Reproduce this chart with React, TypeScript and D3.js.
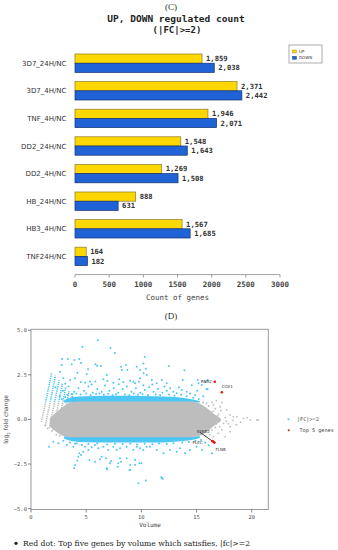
import * as d3 from 'd3';

// ---- (C) bar chart data
const categories = ['3D7_24H/NC', '3D7_4H/NC', 'TNF_4H/NC', 'DD2_24H/NC', 'DD2_4H/NC', 'HB_24H/NC', 'HB3_4H/NC', 'TNF24H/NC'];
const upCounts = [1859, 2371, 1946, 1548, 1269, 888, 1567, 164];
const downCounts = [2038, 2442, 2071, 1643, 1508, 631, 1685, 182];
const countTicks = [0, 500, 1000, 1500, 2000, 2500, 3000];
const seriesNames = ['UP', 'DOWN'];

// ---- (D) MA plot data (volume, log2 fold change)
const volumeTicks = [0, 5, 10, 15, 20];
const foldTicks = [5, 2.5, 0, -2.5, -5];

// dense grey cloud outline
const cloudX = [1.7, 2.4, 3.0, 3.6, 4.5, 8, 12, 14.6, 15.3, 15.9, 16.5, 17.2];
const cloudTop = [0.05, 0.45, 0.75, 0.95, 1.0, 1.0, 1.0, 1.0, 0.88, 0.65, 0.35, 0.05];
const cloudBottom = [-0.4, -0.75, -0.95, -1.0, -1.0, -1.0, -1.0, -1.0, -0.92, -0.72, -0.4, -0.1];

// dense blue bands just outside |log2FC| = 1
const bandX = [3.0, 3.8, 5, 8, 11, 13, 14, 14.8, 15.3];
const bandUpper = [1.08, 1.25, 1.3, 1.32, 1.3, 1.25, 1.18, 1.1, 1.02];
const bandLower = [-1.08, -1.22, -1.28, -1.3, -1.3, -1.25, -1.2, -1.12, -1.04];

// low count streaks on the left
const streakStartX = [0.95, 1.3, 1.65, 2.0, 2.35, 2.7, 3.05];
const streakStartY = [-0.15, -0.35, -0.5, -0.6, -0.7, -0.75, -0.8];
const streakEndX = [1.87, 2.22, 2.55, 2.85, 3.15, 3.45, 3.8];
const streakEndY = [2.6, 2.45, 2.2, 2.0, 1.8, 1.6, 1.45];

const upScatter: [number, number][] = [
  [6.05, 4.43], [4.65, 4.07], [7.19, 4.0], [7.6, 3.72], [10.3, 3.5], [2.81, 3.38], [3.33, 3.38],
  [3.93, 3.33], [4.38, 3.38], [4.53, 3.16], [3.69, 3.09], [2.78, 3.05], [5.83, 3.09], [12.5, 3.0],
  [5.17, 2.81], [5.98, 3.01], [6.32, 2.99], [8.16, 2.95], [8.6, 3.05], [8.73, 2.77], [8.22, 2.77],
  [9.88, 2.77], [10.2, 2.58], [10.4, 2.84], [9.58, 2.95], [10.18, 3.14], [13.9, 2.75], [2.63, 2.67],
  [4.2, 2.62], [5.05, 2.54], [6.86, 2.49], [2.93, 2.3], [3.54, 2.21], [3.99, 2.3], [4.5, 2.1],
  [4.92, 2.06], [5.35, 2.13], [5.83, 2.13], [6.56, 2.25], [6.92, 2.15], [7.46, 2.06], [7.95, 1.97],
  [8.37, 2.1], [8.98, 2.17], [9.43, 2.02], [9.76, 2.11], [10.18, 1.91], [9.28, 2.11], [9.88, 2.3],
  [10.49, 2.49], [10.94, 2.21], [11.39, 2.02], [11.85, 2.21], [12.3, 2.02], [12.6, 1.74], [13.2, 1.46],
  [13.66, 1.65], [14.1, 1.55], [14.57, 1.91], [14.87, 1.37], [15.05, 1.61], [15.17, 2.02], [15.47, 1.93],
  [15.8, 2.1], [16.0, 2.21], [16.0, 1.69], [13.75, 2.21], [15.1, 2.21], [15.9, 1.7],
  [2.2, 1.8], [2.9, 1.6], [3.4, 1.85], [3.9, 1.55], [4.3, 1.75], [4.8, 1.6], [5.2, 1.85], [5.6, 1.5],
  [6.0, 1.7], [6.4, 1.55], [6.7, 1.9], [7.1, 1.6], [7.5, 1.75], [7.9, 1.5], [8.3, 1.7], [8.7, 1.85],
  [9.1, 1.55], [9.5, 1.75], [9.9, 1.5], [10.3, 1.65], [10.7, 1.8], [11.1, 1.55], [11.5, 1.7], [11.9, 1.5],
  [12.3, 1.6], [12.9, 1.55], [13.4, 1.8], [14.4, 1.45], [3.1, 2.0], [5.5, 1.95], [8.0, 2.25], [11.0, 1.95],
  [6.2, 1.45], [4.1, 1.45], [9.3, 1.45], [12.1, 1.85],
  [3.3, 1.38], [3.7, 1.42], [4.5, 1.4], [5.0, 1.45], [5.4, 1.37], [5.9, 1.42], [6.6, 1.38], [7.0, 1.44],
  [7.4, 1.36], [7.7, 1.41], [8.5, 1.4], [8.9, 1.36], [9.7, 1.38], [10.1, 1.42], [10.6, 1.37], [11.3, 1.4],
  [11.7, 1.36], [12.5, 1.4], [13.0, 1.33], [13.6, 1.38], [14.1, 1.3], [14.7, 1.22], [15.2, 1.15], [15.6, 1.3],
  [2.6, 1.3], [2.8, 1.15], [3.1, 1.25],
];

const downScatter: [number, number][] = [
  [9.73, -3.58], [10.4, -3.43], [11.8, -3.24], [11.94, -3.32], [5.29, -2.27], [5.8, -2.37], [6.26, -2.24],
  [6.86, -2.74], [7.86, -2.65], [7.16, -2.46], [8.07, -2.18], [8.67, -2.18], [8.92, -2.83], [4.29, -2.09],
  [4.2, -2.31], [4.74, -1.81], [3.99, -2.55], [3.9, -2.74], [1.63, -1.53], [4.53, -1.99], [4.38, -1.9],
  [5.2, -1.71], [5.5, -1.56], [6.41, -2.09], [6.8, -2.18], [7.25, -2.33], [6.89, -2.8], [7.91, -2.46],
  [8.16, -2.37], [8.98, -2.55], [8.98, -2.83], [9.43, -2.55], [9.82, -2.46], [2.02, -1.25], [2.48, -1.34],
  [2.93, -1.19], [3.24, -1.43], [3.54, -1.3], [3.84, -1.53], [4.14, -1.34], [4.6, -1.43], [4.9, -1.53],
  [5.8, -1.43], [6.1, -1.62], [6.56, -1.53], [7.0, -1.71], [7.46, -1.53], [7.77, -1.71], [8.07, -1.62],
  [8.67, -1.53], [9.27, -1.71], [9.88, -1.62], [10.48, -1.53], [9.58, -1.53], [9.43, -2.27], [10.18, -1.71],
  [10.79, -1.53], [11.4, -1.71], [12.0, -1.9], [12.6, -1.71], [13.2, -1.81], [13.5, -1.62], [13.96, -1.9],
  [14.4, -1.71], [15.0, -1.53], [15.5, -1.71], [16.4, -1.9], [10.0, -2.46], [11.85, -3.3],
  [4.0, -1.36], [5.2, -1.38], [6.0, -1.34], [6.9, -1.4], [7.6, -1.36], [8.3, -1.38], [9.0, -1.35],
  [9.6, -1.4], [10.3, -1.36], [11.0, -1.39], [11.6, -1.35], [12.3, -1.38], [12.9, -1.33], [13.7, -1.3],
  [14.3, -1.27], [14.9, -1.2], [15.4, -1.15], [15.8, -1.3], [16.1, -1.45],
];

const greyScatter: [number, number][] = [
  [16.53, 0.81], [17.13, 0.71], [17.74, 0.53], [18.04, 0.25], [18.65, 0.15], [19.25, 0.06], [19.86, -0.03],
  [20.6, -0.03], [16.23, 0.15], [16.83, -0.03], [17.44, -0.22], [18.04, -0.41], [17.29, -0.59], [16.98, -0.78],
  [16.53, -0.97], [17.59, -0.97], [18.04, -0.69], [18.34, 0.15], [20.46, -0.03], [16.8, 1.05], [17.0, 0.3],
  [17.6, 0.1], [16.5, 0.45], [17.3, 0.95], [16.7, -0.45], [17.9, -0.25], [18.6, -0.3], [19.0, -0.15],
  [15.9, 0.9], [16.2, -0.2], [17.2, 0.5], [16.4, -0.6], [19.6, 0.1], [18.3, -0.05],
  [15.6, 0.95], [16.1, 0.75], [16.4, 0.95], [15.8, -0.95], [16.2, -0.85], [16.9, 0.2], [17.7, -0.1],
  [15.7, 0.55], [16.3, 0.4], [16.7, 0.6], [15.9, -0.45], [16.8, -0.25], [17.1, -0.4],
  [1.5, -0.5], [1.9, -0.65], [2.3, -0.85], [2.6, -0.92], [1.3, -0.35],
];

const topGenes = ['RNR2', 'COX1', 'SYNE2', 'PLEC', 'FLNB'];
const topVolume = [16.65, 17.29, 16.55, 16.45, 16.62];
const topFold = [2.11, 1.52, -1.27, -1.22, -1.3];

const YELLOW = '#ffd700';
const BLUE = '#1f63d6';
const CYAN = '#4cc6f5';
const GREY = '#bdbdbd';
const MONO = '"DejaVu Sans Mono", monospace';
const SANS = '"DejaVu Sans", sans-serif';
const SERIF = '"Liberation Serif", serif';

function BarPanel() {
  const x = d3.scaleLinear().domain([0, 3000]).range([75, 280]);
  const y = d3.scaleBand().domain(categories).range([45, 274.6]).paddingInner(0.333).paddingOuter(0.326);
  const ys = d3.scaleBand().domain(seriesNames).range([0, y.bandwidth()]);
  const color = d3.scaleOrdinal<string>().domain(seriesNames).range([YELLOW, BLUE]);
  const edge = d3.scaleOrdinal<string>().domain(seriesNames).range(['#8a7a2a', '#13306e']);
  const axisY = y.range()[1];

  return (
    <g>
      <text x={171} y={10} textAnchor="middle" fontFamily={SERIF} fontSize={9} fill="#333">(C)</text>
      <text x={176} y={21.5} textAnchor="middle" fontFamily={MONO} fontWeight="bold" fontSize={9.5} fill="#222">UP, DOWN regulated count</text>
      <text x={177} y={32.5} textAnchor="middle" fontFamily={MONO} fontWeight="bold" fontSize={9} fill="#222">(|FC|&gt;=2)</text>

      {categories.map((c, i) => (
        <g key={c}>
          <text x={66.5} y={y(c)! + y.bandwidth() / 2 + 2.5} textAnchor="end" fontFamily={SANS} fontSize={7} fill="#333">{c}</text>
          {seriesNames.map((s) => {
            const v = s === 'UP' ? upCounts[i] : downCounts[i];
            const top = y(c)! + ys(s)!;
            return (
              <g key={s}>
                <rect x={x(0)} y={top} width={x(v) - x(0)} height={ys.bandwidth()} fill={color(s)} stroke={edge(s)} strokeWidth={0.7} />
                <text x={x(v) + 4} y={top + ys.bandwidth() / 2 + 2.5} fontFamily={MONO} fontWeight="bold" fontSize={7.2} fill="#333">{d3.format(',')(v)}</text>
              </g>
            );
          })}
        </g>
      ))}

      <line x1={x(0)} x2={x(3000)} y1={axisY} y2={axisY} stroke="#888" strokeWidth={0.8} />
      {countTicks.map((t) => (
        <g key={t}>
          <line x1={x(t)} x2={x(t)} y1={axisY} y2={axisY + 3} stroke="#888" strokeWidth={0.8} />
          <text x={x(t)} y={axisY + 12} textAnchor="middle" fontFamily={MONO} fontWeight="bold" fontSize={7.5} fill="#444">{t}</text>
        </g>
      ))}
      <text x={177.5} y={300} textAnchor="middle" fontFamily={MONO} fontSize={7.5} fill="#444">Count of genes</text>

      <rect x={289} y={45} width={33} height={18} fill="#fff" stroke="#999" strokeWidth={0.8} />
      {seriesNames.map((s, i) => (
        <g key={s}>
          <rect x={292.5} y={50 + i * 6.3} width={4} height={3} fill={color(s)} stroke={edge(s)} strokeWidth={0.4} />
          <text x={299} y={52.8 + i * 6.3} fontFamily={SANS} fontSize={4} fill="#333">{s}</text>
        </g>
      ))}
    </g>
  );
}

function MAPanel() {
  const x = d3.scaleLinear().domain([0, 21.5]).range([31, 268.3]);
  const y = d3.scaleLinear().domain([-5.05, 5.05]).range([509.5, 329.3]);
  const [x0, x1] = x.range();
  const [yb, yt] = y.range();

  const cloud = d3.area<number>().x((d) => x(cloudX[d])).y0((d) => y(cloudBottom[d])).y1((d) => y(cloudTop[d])).curve(d3.curveMonotoneX);
  const upBand = d3.area<number>().x((d) => x(bandX[d])).y0(y(0.95)).y1((d) => y(bandUpper[d])).curve(d3.curveMonotoneX);
  const downBand = d3.area<number>().x((d) => x(bandX[d])).y0(y(-0.95)).y1((d) => y(bandLower[d])).curve(d3.curveMonotoneX);

  const streaks = streakStartX.map((_, i) => (
    <line key={i} x1={x(streakStartX[i])} y1={y(streakStartY[i])} x2={x(streakEndX[i])} y2={y(streakEndY[i])} strokeWidth={1.6} strokeDasharray="1.3 0.9" />
  ));

  const labelDx = [-3, 0, -17, -10, 1];
  const labelDy = [1, -4, -9, 3, 8];
  const labelAnchor = ['end', 'start', 'start', 'end', 'start'];

  return (
    <g>
      <text x={171} y={319} textAnchor="middle" fontFamily={SERIF} fontSize={9} fill="#333">(D)</text>
      <defs>
        <clipPath id="frame"><rect x={x0} y={yt} width={x1 - x0} height={yb - yt} /></clipPath>
        <clipPath id="inner"><rect x={x0} y={y(1)} width={x1 - x0} height={y(-1) - y(1)} /></clipPath>
        <clipPath id="outer">
          <rect x={x0} y={yt} width={x1 - x0} height={y(1) - yt} />
          <rect x={x0} y={y(-1)} width={x1 - x0} height={yb - y(-1)} />
        </clipPath>
      </defs>

      <g clipPath="url(#frame)">
        <path d={upBand(d3.range(bandX.length))!} fill={CYAN} />
        <path d={downBand(d3.range(bandX.length))!} fill={CYAN} />
        <path d={cloud(d3.range(cloudX.length))!} fill={GREY} />
        <g stroke={GREY} clipPath="url(#inner)">{streaks}</g>
        <g stroke={CYAN} clipPath="url(#outer)">{streaks}</g>
        {greyScatter.map(([v, f], i) => <circle key={'g' + i} cx={x(v)} cy={y(f)} r={0.9} fill={GREY} />)}
        {upScatter.map(([v, f], i) => <circle key={'u' + i} cx={x(v)} cy={y(f)} r={1} fill={CYAN} />)}
        {downScatter.map(([v, f], i) => <circle key={'d' + i} cx={x(v)} cy={y(f)} r={1} fill={CYAN} />)}
        <line x1={x(topVolume[2]) - 14} y1={y(topFold[2]) - 10} x2={x(topVolume[4])} y2={y(topFold[4])} stroke="#111" strokeWidth={0.8} />
        {topGenes.map((g, i) => (
          <g key={g}>
            <circle cx={x(topVolume[i])} cy={y(topFold[i])} r={1.3} fill="#e8151b" />
            <text x={x(topVolume[i]) + labelDx[i]} y={y(topFold[i]) + labelDy[i]} textAnchor={labelAnchor[i]} fontFamily={SANS} fontSize={4} fill="#333">{g}</text>
          </g>
        ))}
      </g>

      <rect x={x0} y={yt} width={x1 - x0} height={yb - yt} fill="none" stroke="#999" strokeWidth={1} />
      {foldTicks.map((t) => (
        <g key={t}>
          <line x1={x0 - 3} x2={x0} y1={y(t)} y2={y(t)} stroke="#666" strokeWidth={0.8} />
          <text x={x0 - 4} y={y(t) + 2} textAnchor="end" fontFamily={MONO} fontSize={5.5} fill="#555">{d3.format('.1f')(t).replace('-', '\u2212')}</text>
        </g>
      ))}
      {volumeTicks.map((t) => (
        <g key={t}>
          <line x1={x(t)} x2={x(t)} y1={yb} y2={yb + 3} stroke="#666" strokeWidth={0.8} />
          <text x={x(t)} y={yb + 9} textAnchor="middle" fontFamily={MONO} fontSize={5.5} fill="#555">{t}</text>
        </g>
      ))}
      <text x={150} y={527} textAnchor="middle" fontFamily={MONO} fontSize={6} fill="#444">Volume</text>
      <text transform={`translate(8,${y(0)}) rotate(-90)`} textAnchor="middle" fontFamily={SANS} fontSize={6} fill="#444">
        log<tspan fontSize={4} dy={1.5}>2</tspan><tspan dy={-1.5}> fold change</tspan>
      </text>

      <circle cx={288.5} cy={419.3} r={1} fill={CYAN} />
      <text x={297} y={421.3} fontFamily={MONO} fontSize={5.2} fill="#444">|FC|&gt;=2</text>
      <circle cx={288.7} cy={430.3} r={1} fill="#e8151b" />
      <text x={299.5} y={432.3} fontFamily={MONO} fontSize={5.2} fill="#444">Top 5 genes</text>

      <circle cx={16} cy={543.3} r={1.6} fill="#222" />
      <text x={23} y={546.3} textLength={227} lengthAdjust="spacingAndGlyphs" fontFamily={'"DejaVu Serif", serif'} fontSize={8} fill="#222">Red dot: Top five genes by volume which satisfies, |fc|&gt;=2</text>
    </g>
  );
}

export default function App() {
  return (
    <svg width={338} height={550} viewBox="0 0 338 550" style={{ position: 'absolute', left: 0, top: 0, background: '#fff' }}>
      <rect width={338} height={550} fill="#fff" />
      <BarPanel />
      <MAPanel />
    </svg>
  );
}
